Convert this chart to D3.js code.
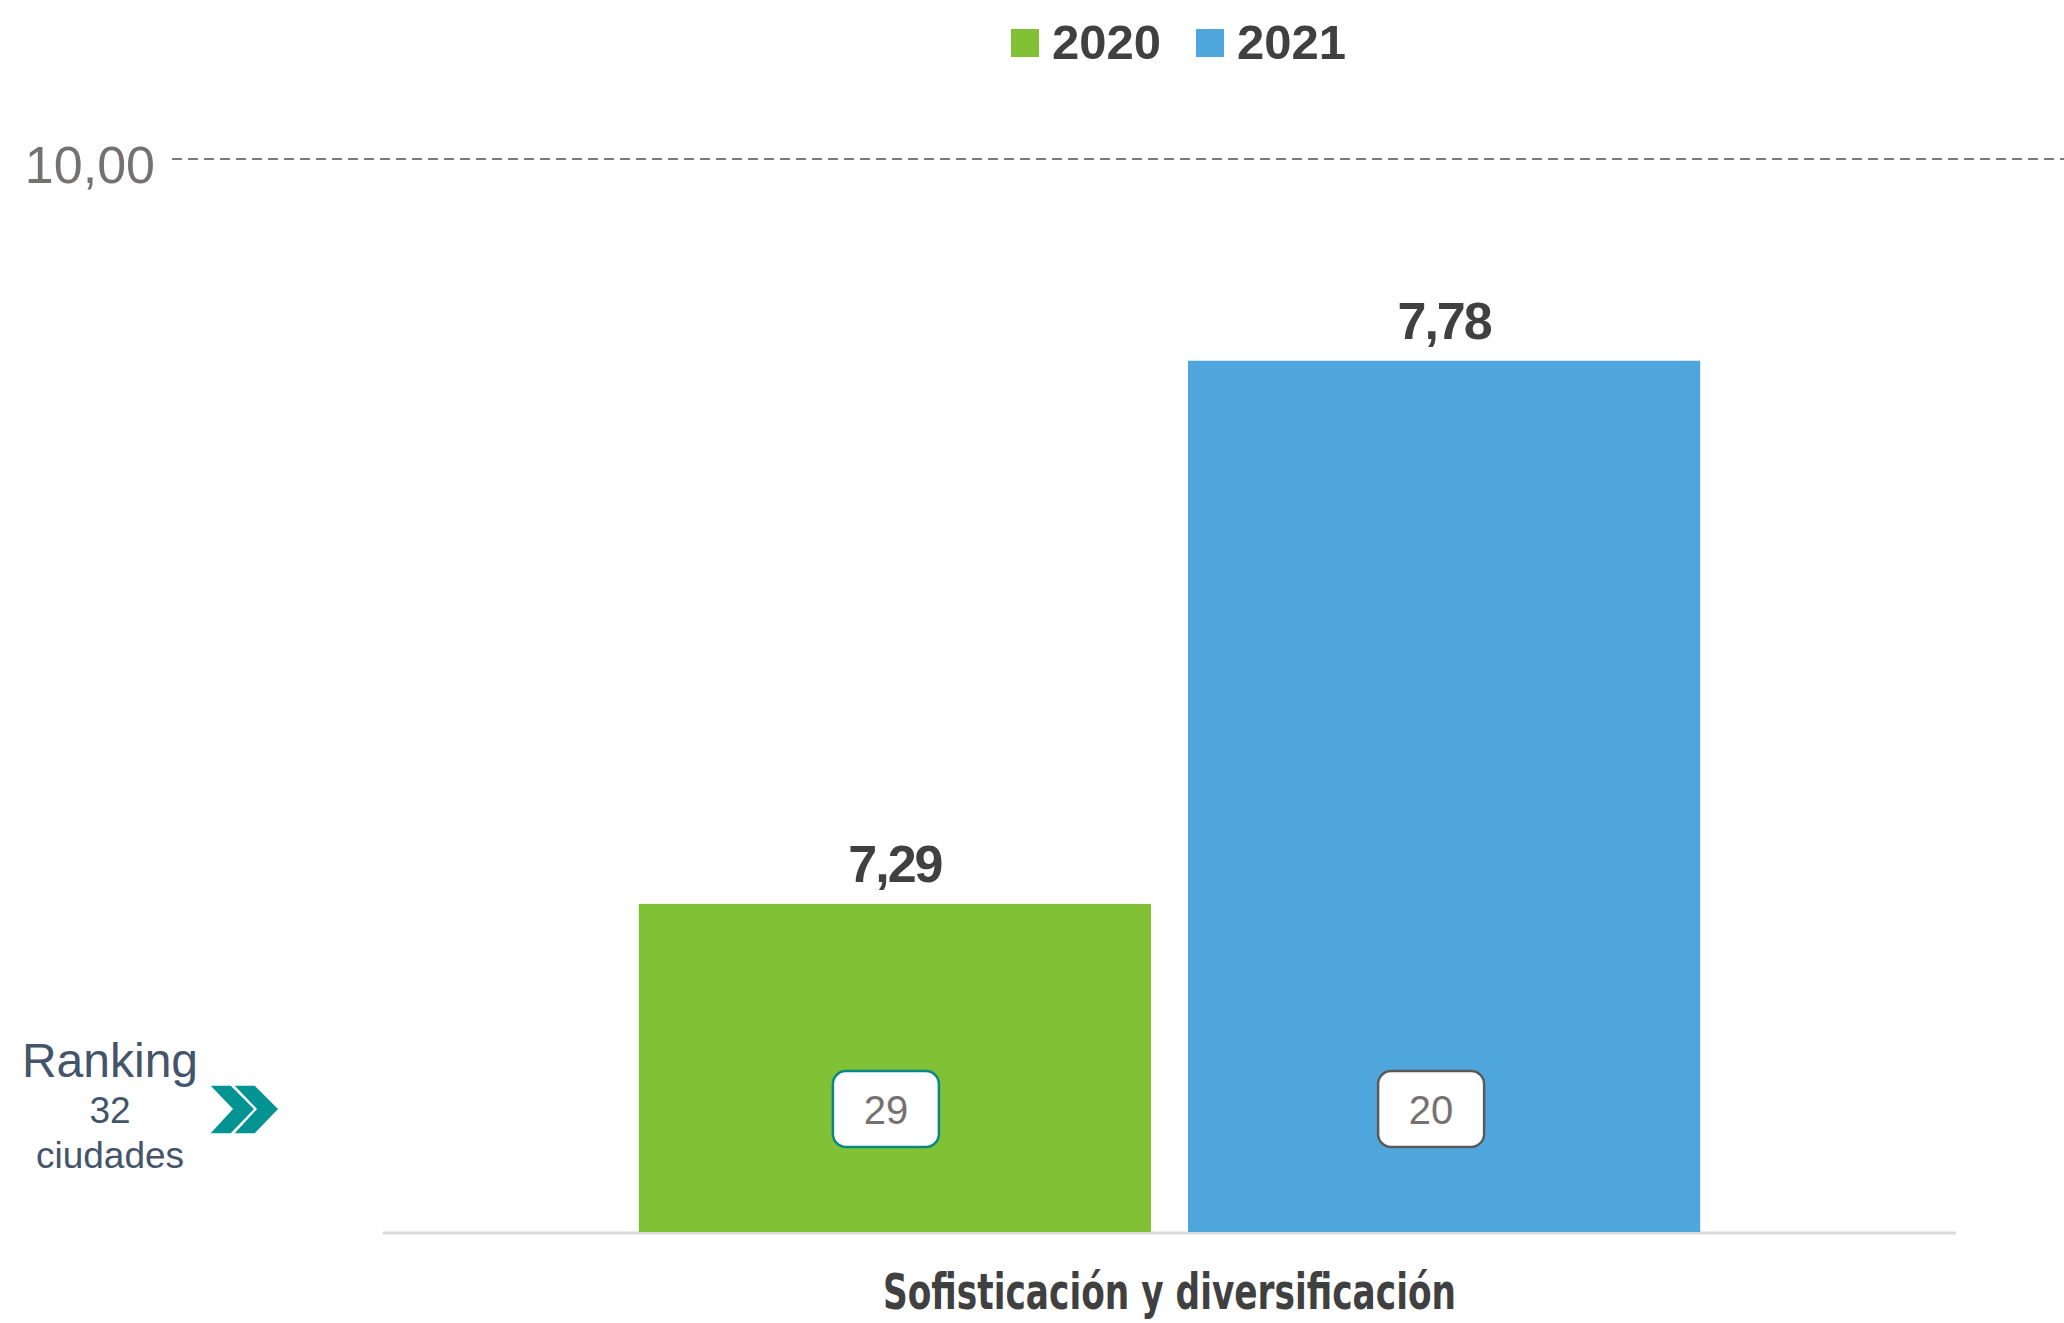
<!DOCTYPE html>
<html>
<head>
<meta charset="utf-8">
<script src="https://cdn.jsdelivr.net/npm/d3@7"></script>
<style>
  body { margin: 0; background: #fff; }
  svg { display: block; font-family: "Liberation Sans", Arial, sans-serif; }
</style>
</head>
<body>
<script>
var width = 2064, height = 1323;

// data
var categories = ["Sofisticación y diversificación"];
var years = ["2020", "2021"];
var values = [7.29, 7.78];
var rankings = [29, 20];
var refLabel = "10,00";
var rankingTitle = ["Ranking", "32", "ciudades"];
var colors = ["#80c135", "#4fa6dc"];
var badgeStroke = ["#078787", "#5a5a5a"];

var fmt = function(v) { return d3.format(".2f")(v).replace(".", ","); };

var svg = d3.select("body").append("svg")
  .attr("width", width)
  .attr("height", height);

// scales
var plot = {left: 383, right: 1956, top: 159, bottom: 1232};
var yScale = d3.scaleLinear().domain([6.994, 7.962]).range([plot.bottom, plot.top]);
var x0 = d3.scaleBand().domain(categories).range([plot.left, plot.right]).paddingInner(0).paddingOuter(0.241);
var x1 = d3.scaleBand().domain(years).range([0, x0.bandwidth()]).paddingInner(0.0674).paddingOuter(0);

// reference line (top)
svg.append("line")
  .attr("x1", 172).attr("x2", width)
  .attr("y1", yScale.range()[1]).attr("y2", yScale.range()[1])
  .attr("stroke", "#7a7a7a")
  .attr("stroke-width", 2)
  .attr("stroke-dasharray", "10,6");
svg.append("text")
  .attr("x", 155).attr("y", yScale.range()[1] + 24)
  .attr("text-anchor", "end")
  .attr("font-size", 52)
  .attr("fill", "#767171")
  .text(refLabel);

// baseline
svg.append("line")
  .attr("x1", plot.left).attr("x2", plot.right)
  .attr("y1", plot.bottom + 1).attr("y2", plot.bottom + 1)
  .attr("stroke", "#d9d9d9")
  .attr("stroke-width", 3);

var g = svg.append("g").attr("transform", "translate(" + x0(categories[0]) + ",0)");

// bars
g.selectAll(".bar")
  .data(values)
  .enter().append("rect")
  .attr("class", "bar")
  .attr("x", function(d, i) { return x1(years[i]); })
  .attr("y", function(d) { return yScale(d); })
  .attr("width", x1.bandwidth())
  .attr("height", function(d) { return plot.bottom - yScale(d); })
  .attr("fill", function(d, i) { return colors[i]; });

// value labels
g.selectAll(".val")
  .data(values)
  .enter().append("text")
  .attr("class", "val")
  .attr("x", function(d, i) { return x1(years[i]) + x1.bandwidth() / 2; })
  .attr("y", function(d) { return yScale(d) - 22; })
  .attr("text-anchor", "middle")
  .attr("font-size", 52)
  .attr("font-weight", "bold")
  .attr("letter-spacing", -2)
  .attr("fill", "#404040")
  .text(fmt);

// ranking badges
var badgeShift = [-9, -13];
var badge = g.selectAll(".badge")
  .data(rankings)
  .enter().append("g")
  .attr("class", "badge")
  .attr("transform", function(d, i) {
    return "translate(" + (x1(years[i]) + x1.bandwidth() / 2 + badgeShift[i]) + ",1109)";
  });
badge.append("rect")
  .attr("x", -53).attr("y", -38)
  .attr("width", 106).attr("height", 76)
  .attr("rx", 13)
  .attr("fill", "#fff")
  .attr("stroke", function(d, i) { return badgeStroke[i]; })
  .attr("stroke-width", 2.5);
badge.append("text")
  .attr("text-anchor", "middle")
  .attr("y", 15)
  .attr("font-size", 40)
  .attr("fill", "#767171")
  .text(function(d) { return d; });

// ranking title on the left
var rk = svg.append("g").attr("fill", "#44546a").attr("text-anchor", "middle");
rk.append("text").attr("x", 110).attr("y", 1077).attr("font-size", 48).text(rankingTitle[0]);
rk.append("text").attr("x", 110).attr("y", 1123).attr("font-size", 37).text(rankingTitle[1]);
rk.append("text").attr("x", 110).attr("y", 1168).attr("font-size", 37).text(rankingTitle[2]);

// chevrons
var chev = function(x) {
  return [[x, 1085], [x + 22, 1085], [x + 46, 1109], [x + 22, 1134], [x, 1134], [x + 23, 1109]];
};
[209, 233].forEach(function(x) {
  svg.append("polygon")
    .attr("points", chev(x).join(" "))
    .attr("fill", "#039393")
    .attr("stroke", "#fff")
    .attr("stroke-width", 1.5);
});

// category label
svg.selectAll(".cat")
  .data(categories)
  .enter().append("text")
  .attr("class", "cat")
  .attr("x", function(d) { return x0(d) + x0.bandwidth() / 2; })
  .attr("y", 1309)
  .attr("text-anchor", "middle")
  .attr("font-family", "'Liberation Sans Narrow', 'DejaVu Sans Condensed', sans-serif")
  .attr("font-size", 50)
  .attr("font-weight", "bold")
  .attr("fill", "#404040")
  .attr("textLength", 573)
  .attr("lengthAdjust", "spacingAndGlyphs")
  .text(function(d) { return d; });

// legend
var legend = svg.append("g");
var legX = [1011, 1196];
years.forEach(function(y, i) {
  legend.append("rect")
    .attr("x", legX[i]).attr("y", 29)
    .attr("width", 28).attr("height", 28)
    .attr("fill", colors[i]);
  legend.append("text")
    .attr("x", legX[i] + 41).attr("y", 59)
    .attr("font-size", 49)
    .attr("font-weight", "bold")
    .attr("fill", "#404040")
    .text(y);
});
</script>
</body>
</html>
